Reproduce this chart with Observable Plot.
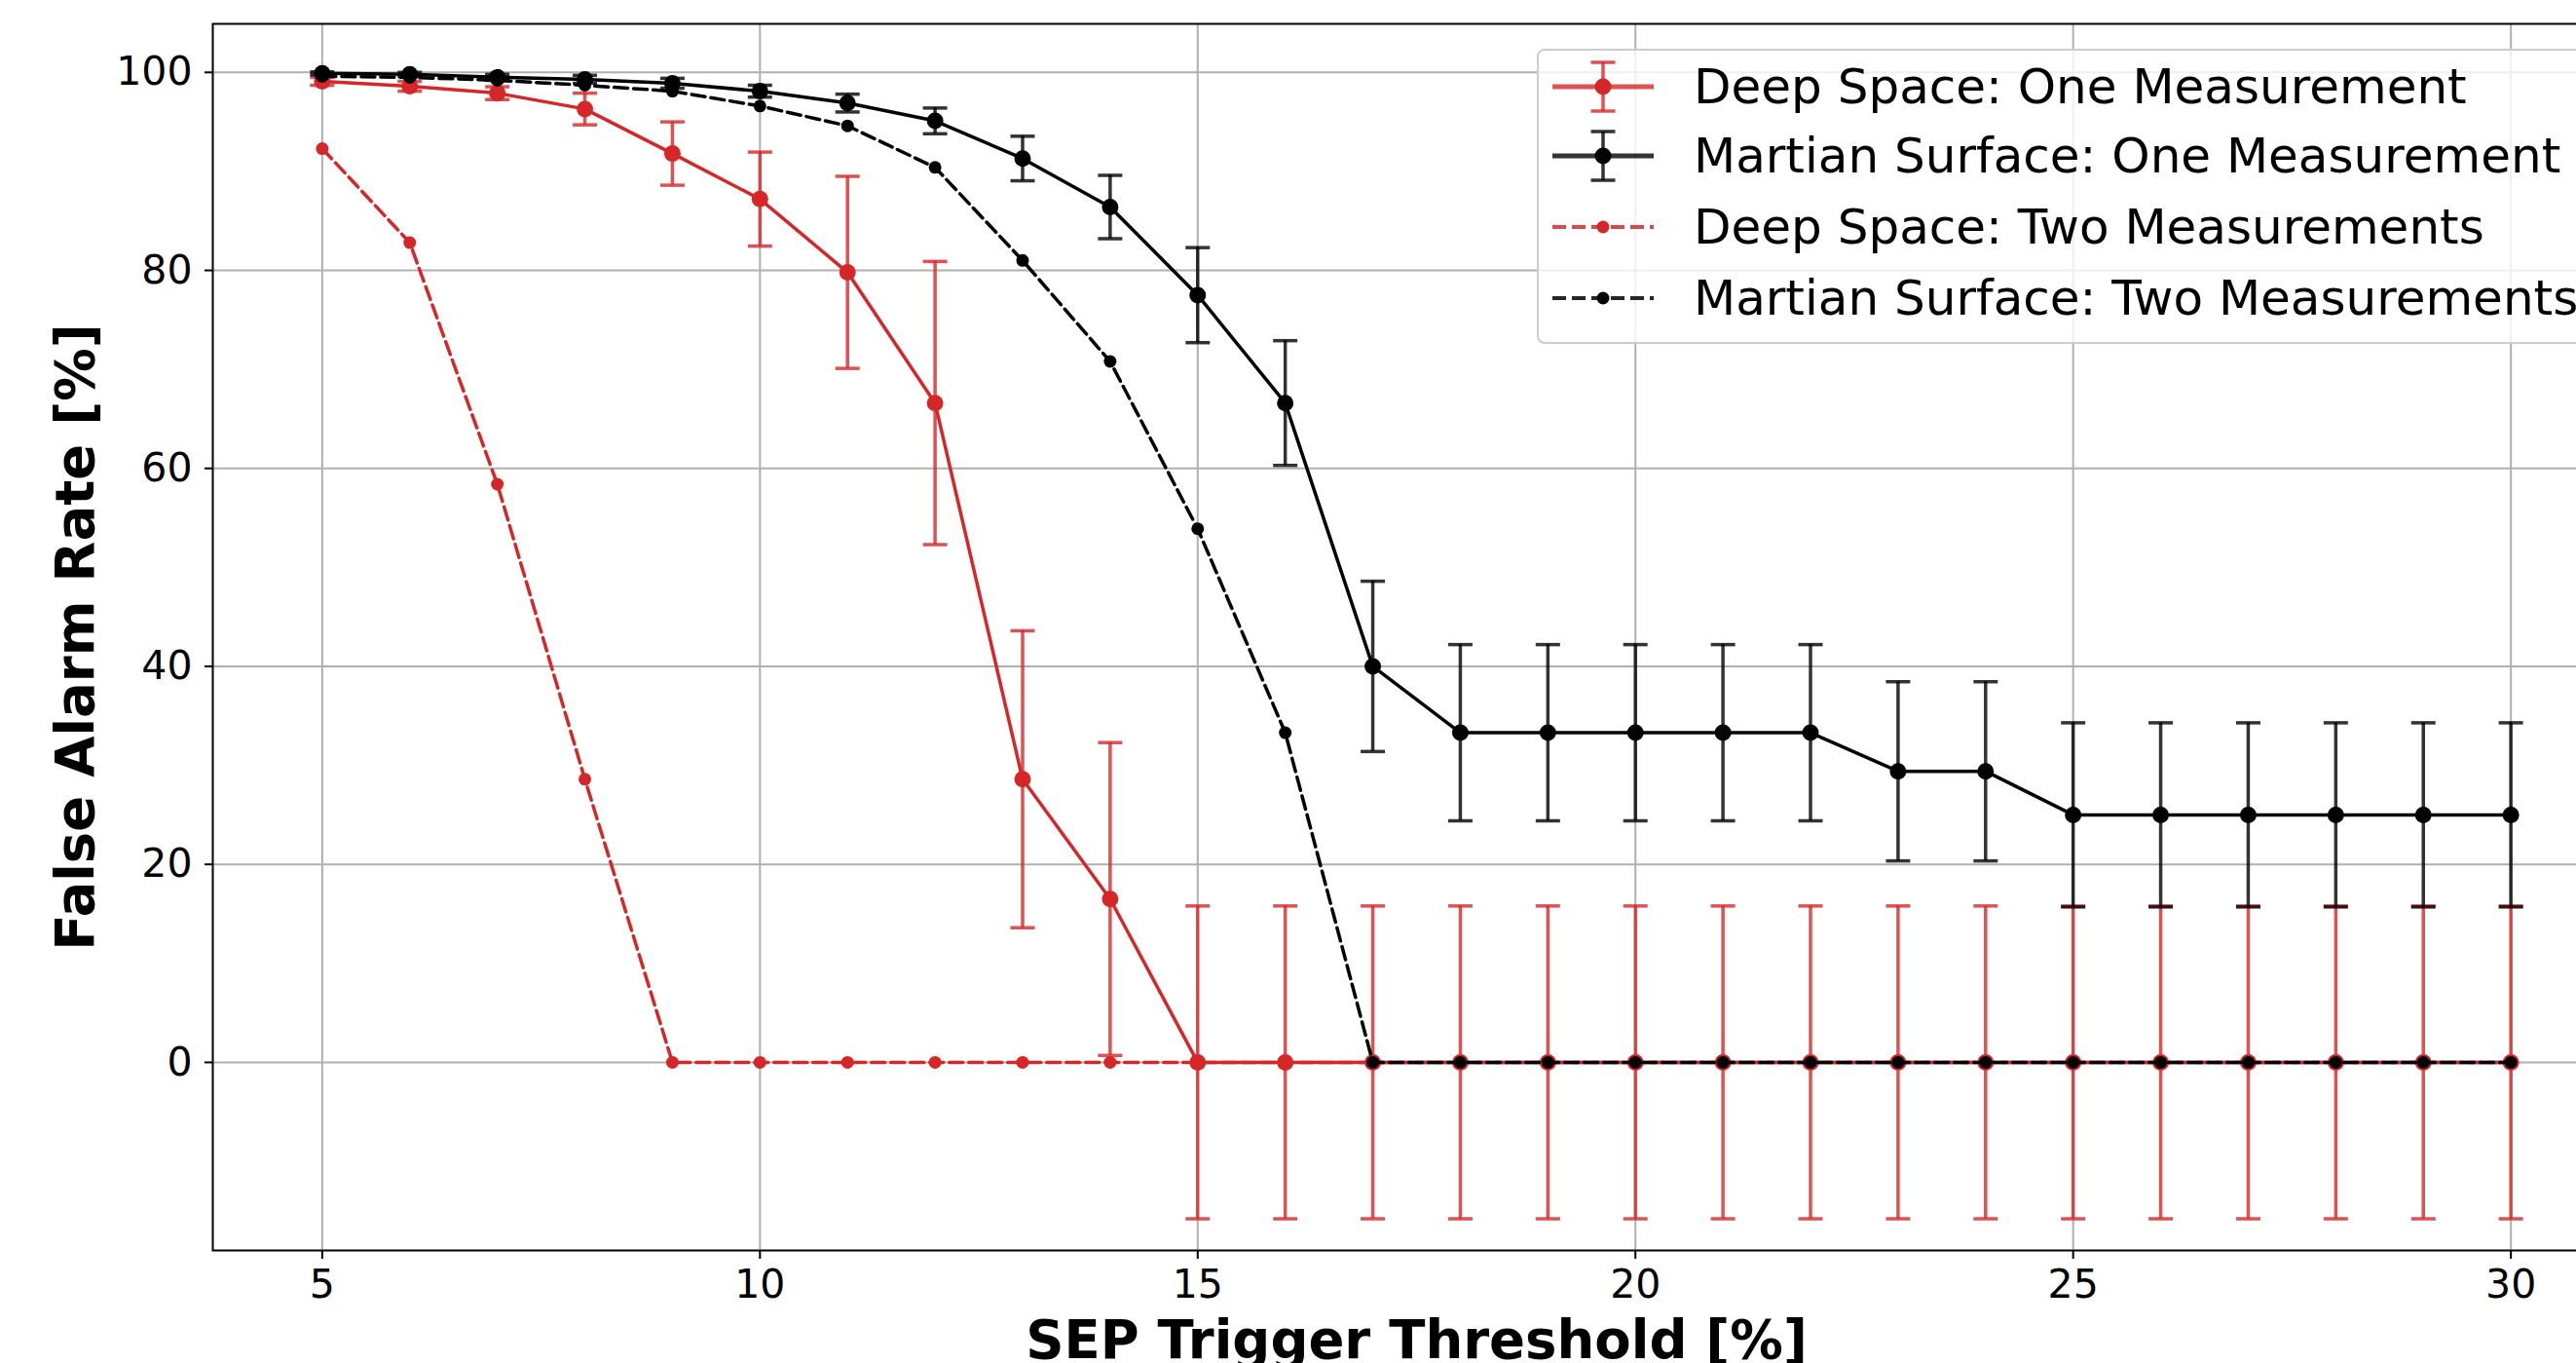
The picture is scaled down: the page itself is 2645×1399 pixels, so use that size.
<!DOCTYPE html>
<html>
<head>
<meta charset="utf-8">
<script src="https://cdn.jsdelivr.net/npm/d3@7"></script>
<script src="https://cdn.jsdelivr.net/npm/@observablehq/plot@0.6"></script>
<style>
html, body { margin: 0; padding: 0; background: #fff; overflow: hidden; }
#wrap { position: relative; width: 2645px; height: 1399px; overflow: hidden; background: #fff; }
#chart { position: absolute; left: 0; top: 0; width: 2700px; height: 1399px; }
#chart svg { max-width: none !important; width: 2700px !important; height: 1399px !important; }
#legend { position: absolute; left: 1578px; top: 50px; width: 1120px; height: 303px; box-sizing: border-box;
  border: 2px solid #cccccc; border-radius: 8px; background: rgba(255,255,255,0.8);
  font-family: "DejaVu Sans", sans-serif; font-size: 50px; color: #000; }
.row { position: absolute; left: 0; height: 60px; white-space: nowrap; width: 1100px; }
.row svg { position: absolute; left: 12px; top: 0; }
.row span { position: absolute; left: 159px; top: 0; line-height: 60px; }
</style>
</head>
<body>
<div id="wrap"><div id="chart"></div><div id="legend"></div></div>
<script>
// ---- data ----
const thresholds = [5, 6, 7, 8, 9, 10, 11, 12, 13, 14, 15, 16, 17, 18, 19, 20, 21, 22, 23, 24, 25, 26, 27, 28, 29, 30];

const deepOne    = [99.1, 98.6, 97.9, 96.3, 91.8, 87.2, 79.8, 66.6, 28.6, 16.5, 0, 0, 0, 0, 0, 0, 0, 0, 0, 0, 0, 0, 0, 0, 0, 0];
const deepOneErr = [0.4, 0.5, 0.65, 1.6, 3.2, 4.75, 9.7, 14.3, 15.0, 15.8, 15.8, 15.8, 15.8, 15.8, 15.8, 15.8, 15.8, 15.8, 15.8, 15.8, 15.8, 15.8, 15.8, 15.8, 15.8, 15.8];

const marsOne    = [99.9, 99.8, 99.5, 99.3, 98.9, 98.1, 96.9, 95.1, 91.3, 86.4, 77.5, 66.6, 40.0, 33.3, 33.3, 33.3, 33.3, 33.3, 29.4, 29.4, 25.0, 25.0, 25.0, 25.0, 25.0, 25.0];
const marsOneErr = [0.15, 0.2, 0.3, 0.4, 0.5, 0.6, 0.9, 1.3, 2.25, 3.2, 4.8, 6.3, 8.6, 8.9, 8.9, 8.9, 8.9, 8.9, 9.05, 9.05, 9.3, 9.3, 9.3, 9.3, 9.3, 9.3];

const deepTwo = [92.3, 82.8, 58.4, 28.6, 0, 0, 0, 0, 0, 0, 0, 0, 0, 0, 0, 0, 0, 0, 0, 0, 0, 0, 0, 0, 0, 0];
const marsTwo = [99.6, 99.5, 99.2, 98.7, 98.1, 96.6, 94.6, 90.4, 81.0, 70.8, 53.9, 33.3, 0, 0, 0, 0, 0, 0, 0, 0, 0, 0, 0, 0, 0, 0];

const xTicks = [5, 10, 15, 20, 25, 30];
const yTicks = [0, 20, 40, 60, 80, 100];

const seriesNames = [
  "Deep Space: One Measurement",
  "Martian Surface: One Measurement",
  "Deep Space: Two Measurements",
  "Martian Surface: Two Measurements"
];
const seriesColors = ["#d62728", "#000000", "#d62728", "#000000"];
const xLabel = "SEP Trigger Threshold [%]";
const yLabel = "False Alarm Rate [%]";

// ---- build tables ----
const withErr = (vals, errs) => thresholds.map((t, i) => ({ t, v: vals[i], e: errs[i] }));
const plain = (vals) => thresholds.map((t, i) => ({ t, v: vals[i] }));
const dOne = withErr(deepOne, deepOneErr);
const mOne = withErr(marsOne, marsOneErr);
const dTwo = plain(deepTwo);
const mTwo = plain(marsTwo);

const CAP = 0.139; // cap half-width in x units
const LW = 3.5;

function errMarks(data, color) {
  const common = { stroke: color, strokeOpacity: 0.8, strokeWidth: LW };
  return [
    Plot.ruleX(data, { x: "t", y1: d => d.v - d.e, y2: d => d.v + d.e, ...common }),
    Plot.link(data, { x1: d => d.t - CAP, x2: d => d.t + CAP, y1: d => d.v + d.e, y2: d => d.v + d.e, ...common }),
    Plot.link(data, { x1: d => d.t - CAP, x2: d => d.t + CAP, y1: d => d.v - d.e, y2: d => d.v - d.e, ...common })
  ];
}

const chart = Plot.plot({
  width: 2700,
  height: 1399,
  marginLeft: 218,
  marginRight: 10,
  marginTop: 24,
  marginBottom: 116,
  style: { fontFamily: "DejaVu Sans", fontSize: "41px", background: "transparent", color: "#000", maxWidth: "none" },
  x: { domain: [3.75, 31.25] },
  y: { domain: [-19, 104.9] },
  marks: [
    Plot.gridX(xTicks, { stroke: "#b0b0b0", strokeOpacity: 1, strokeWidth: 2 }),
    Plot.gridY(yTicks, { stroke: "#b0b0b0", strokeOpacity: 1, strokeWidth: 2 }),
    // Deep Space: One Measurement
    ...errMarks(dOne, seriesColors[0]),
    Plot.line(dOne, { x: "t", y: "v", stroke: seriesColors[0], strokeWidth: LW }),
    Plot.dot(dOne, { x: "t", y: "v", r: 8.5, fill: seriesColors[0], stroke: "none" }),
    // Martian Surface: One Measurement
    ...errMarks(mOne, seriesColors[1]),
    Plot.line(mOne, { x: "t", y: "v", stroke: seriesColors[1], strokeWidth: LW }),
    Plot.dot(mOne, { x: "t", y: "v", r: 8.5, fill: seriesColors[1], stroke: "none" }),
    // Deep Space: Two Measurements
    Plot.line(dTwo, { x: "t", y: "v", stroke: seriesColors[2], strokeWidth: LW, strokeDasharray: "14,6" }),
    Plot.dot(dTwo, { x: "t", y: "v", r: 6.5, fill: seriesColors[2], stroke: "none" }),
    // Martian Surface: Two Measurements
    Plot.line(mTwo, { x: "t", y: "v", stroke: seriesColors[3], strokeWidth: LW, strokeDasharray: "14,6" }),
    Plot.dot(mTwo, { x: "t", y: "v", r: 6.5, fill: seriesColors[3], stroke: "none" }),
    Plot.frame({ stroke: "#000", strokeWidth: 2 }),
    Plot.axisX({ ticks: xTicks, tickSize: 9, tickPadding: 10, fontSize: 41, strokeWidth: 2, label: null }),
    Plot.axisY({ ticks: yTicks, tickSize: 8, tickPadding: 13, fontSize: 41, strokeWidth: 2, label: null }),
    Plot.text([yLabel], { text: d => d, frameAnchor: "left", textAnchor: "middle", lineAnchor: "middle", dx: -140, rotate: -90, fontSize: 54.5, fontWeight: "bold", fill: "#000" }),
    Plot.text([xLabel], { text: d => d, frameAnchor: "bottom", textAnchor: "middle", lineAnchor: "middle", dy: 93, fontSize: 54.5, fontWeight: "bold", fill: "#000" })
  ]
});
document.getElementById("chart").appendChild(chart);

// ---- legend ----
const legend = document.getElementById("legend");
const rowCenters = [37, 108, 181, 254];
seriesNames.forEach((name, i) => {
  const row = document.createElement("div");
  row.className = "row";
  row.style.top = (rowCenters[i] - 30) + "px";
  const color = seriesColors[i];
  const hasErr = i < 2;
  const dash = hasErr ? "" : ' stroke-dasharray="14,6"';
  let svg = `<svg width="112" height="60" viewBox="0 0 112 60">`;
  svg += `<line x1="2" x2="106" y1="30" y2="30" stroke="${color}" stroke-width="${hasErr ? 5 : 4}"${dash} stroke-opacity="${hasErr ? 0.8 : 0.85}"/>`;
  if (hasErr) {
    svg += `<line x1="54" x2="54" y1="5" y2="55" stroke="${color}" stroke-width="${LW}" stroke-opacity="0.8"/>`;
    svg += `<line x1="41.5" x2="66.5" y1="5" y2="5" stroke="${color}" stroke-width="${LW}" stroke-opacity="0.8"/>`;
    svg += `<line x1="41.5" x2="66.5" y1="55" y2="55" stroke="${color}" stroke-width="${LW}" stroke-opacity="0.8"/>`;
  }
  svg += `<circle cx="54" cy="30" r="${hasErr ? 8.5 : 6.5}" fill="${color}"/>`;
  svg += `</svg>`;
  row.innerHTML = svg + `<span>${name}</span>`;
  legend.appendChild(row);
});
</script>
</body>
</html>
